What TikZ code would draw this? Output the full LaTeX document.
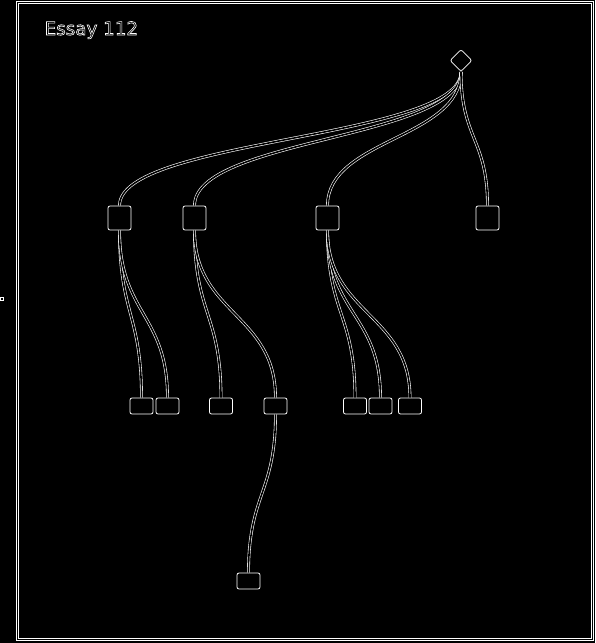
\documentclass[tikz,border=0pt]{standalone}
\usepackage{fontspec}
\newfontfamily\titlefont{DejaVu Sans}
\usetikzlibrary{shapes.geometric,calc}
\newcommand\treelink[2]{\draw[link] let \p1=(#1.south), \p2=(#2.north) in (\p1) .. controls (\x1,{0.5*\y1+0.5*\y2}) and (\x2,{0.5*\y1+0.5*\y2}) .. (\p2);}
\newcommand\outlinetext[1]{\special{pdf:code 1 Tr 0.6 w}#1\special{pdf:code 0 Tr}}
\begin{document}
\begin{tikzpicture}[x=1pt,y=-1pt,
  box/.style={draw=white, line width=0.8pt, rounded corners=2pt, minimum width=23pt, minimum height=24pt, inner sep=0pt, fill=black},
  leaf/.style={box, minimum height=16pt},
  rootnode/.style={diamond, draw=white, line width=0.8pt, rounded corners=2pt, minimum width=22pt, minimum height=22pt, inner sep=0pt, fill=black},
  link/.style={draw=white, line width=0.6pt, double=black, double distance=1.6pt},
  frame/.style={draw=white, line width=0.8pt, double=black, double distance=1.2pt}
  ]
\fill[black] (0,0) rectangle (595,643);
\useasboundingbox (0,0) rectangle (595,643);
\draw[frame] (17.5,2.5) rectangle (592.5,639.5);
\draw[white, line width=0.6pt] (0.5,297.5) rectangle (3,300.5);
\node[anchor=base west, text=white, font=\titlefont\fontsize{18.3}{21}\selectfont, inner sep=0pt] (title) at (44.5,35) {\outlinetext{Essay 112}};

\node[rootnode] (root) at (461,60.5) {};
\node[box] (n1) at (119.5,218) {};
\node[box] (n2) at (194.5,218) {};
\node[box] (n3) at (327.5,218) {};
\node[box] (n4) at (487.5,218) {};
\node[leaf] (a) at (141.5,406) {};
\node[leaf] (b) at (167.5,406) {};
\node[leaf] (c) at (221,406) {};
\node[leaf] (d) at (275.5,406) {};
\node[leaf] (e) at (355,406) {};
\node[leaf] (f) at (380.5,406) {};
\node[leaf] (g) at (410,406) {};
\node[leaf] (h) at (248.5,581) {};

\treelink{root}{n1}
\treelink{root}{n2}
\treelink{root}{n3}
\treelink{root}{n4}
\treelink{n1}{a}
\treelink{n1}{b}
\treelink{n2}{c}
\treelink{n2}{d}
\treelink{n3}{e}
\treelink{n3}{f}
\treelink{n3}{g}
\treelink{d}{h}
\end{tikzpicture}
\end{document}
